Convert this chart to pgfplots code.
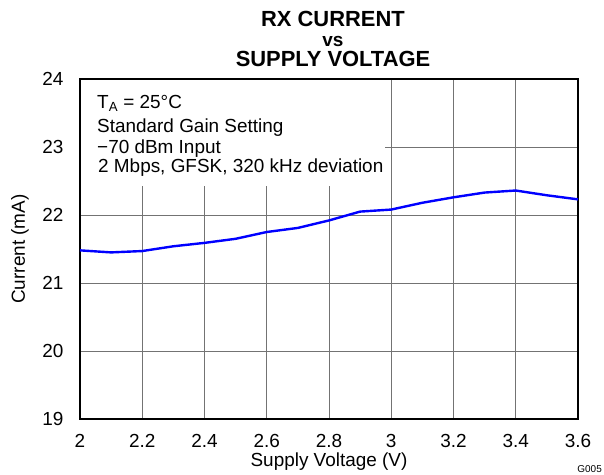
\documentclass[border=0pt]{standalone}
\usepackage{fontspec}
\setmainfont{Liberation Sans}
\usepackage{pgfplots}
\pgfplotsset{compat=1.18}
\usetikzlibrary{calc}

\newcommand{\fs}[1]{\fontsize{#1}{#1}\selectfont}

\begin{document}
\begin{tikzpicture}
\begin{axis}[
  scale only axis,
  width=498bp, height=340bp,
  xmin=2, xmax=3.6,
  ymin=19, ymax=24,
  xtick={2,2.2,2.4,2.6,2.8,3,3.2,3.4,3.6},
  ytick={19,20,21,22,23,24},
  grid=major,
  grid style={line width=0.9bp, black!55},
  major tick length=0pt,
  axis line style={line width=2.2bp},
  tick label style={font=\fs{19}},
  /pgf/number format/assume math mode=true,
  xticklabel style={anchor=base, yshift=-28bp},
  yticklabel style={anchor=east, xshift=-13bp},
]
% white panel behind the conditions text
\fill[white] (axis cs:2.004,23.985) rectangle (axis cs:2.98,22.42);

\addplot[color=blue, line width=2.4bp] coordinates {
  (2.0, 21.48)
  (2.1, 21.45)
  (2.2, 21.47)
  (2.3, 21.54)
  (2.4, 21.59)
  (2.5, 21.65)
  (2.6, 21.75)
  (2.7, 21.81)
  (2.8, 21.92)
  (2.9, 22.05)
  (3.0, 22.08)
  (3.1, 22.18)
  (3.2, 22.26)
  (3.3, 22.33)
  (3.4, 22.36)
  (3.5, 22.29)
  (3.6, 22.23)
};
\end{axis}

% conditions
\node[anchor=base west, inner sep=0pt, font=\fs{19}] at ($(current axis.north west)+(17bp,-29.7bp)$) {T\textsubscript{A} = 25°C};
\node[anchor=base west, inner sep=0pt, font=\fs{19}] at ($(current axis.north west)+(17bp,-53bp)$) {Standard Gain Setting};
\node[anchor=base west, inner sep=0pt, font=\fs{19}] at ($(current axis.north west)+(17bp,-74bp)$) {−70 dBm Input};
\node[anchor=base west, inner sep=0pt, font=\fs{19}] at ($(current axis.north west)+(18bp,-93.7bp)$) {2 Mbps, GFSK, 320 kHz deviation};

% title
\node[anchor=base, inner sep=0pt, font=\fs{22}\bfseries] at ($(current axis.north)+(4bp,52.3bp)$) {RX CURRENT};
\node[anchor=base, inner sep=0pt, font=\fs{19}\bfseries] at ($(current axis.north)+(4bp,33bp)$) {vs};
\node[anchor=base, inner sep=0pt, font=\fs{22}\bfseries] at ($(current axis.north)+(4bp,12.3bp)$) {SUPPLY VOLTAGE};

% axis labels
\node[anchor=base, inner sep=0pt, font=\fs{19}] at ($(current axis.south)+(0,-47bp)$) {Supply Voltage (V)};
\node[anchor=base, rotate=90, inner sep=0pt, font=\fs{19}] at ($(current axis.west)+(-55bp,0)$) {Current (mA)};
\node[anchor=base east, inner sep=0pt, font=\fs{10}] at ($(current axis.south west)+(522bp,-53bp)$) {G005};

\pgfresetboundingbox
\path ($(current axis.south west)+(-80bp,-56bp)$) rectangle ($(current axis.south west)+(524bp,419bp)$);
\end{tikzpicture}
\end{document}
